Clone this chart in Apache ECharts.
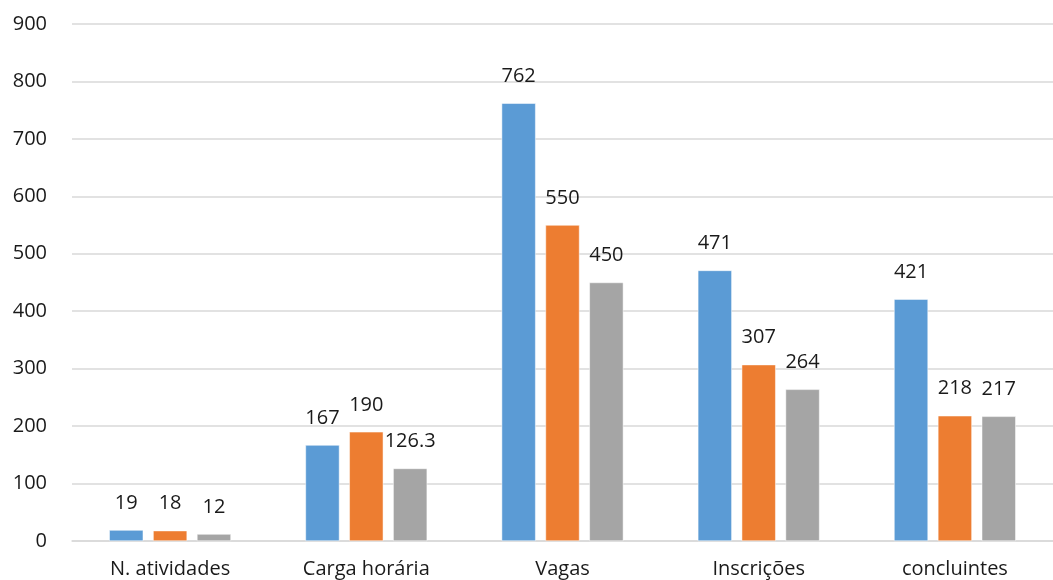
<!DOCTYPE html>
<html>
<head>
<meta charset="utf-8">
<script src="https://cdn.jsdelivr.net/npm/echarts@6/dist/echarts.min.js"></script>
<style>
html,body{margin:0;padding:0;background:#fff;}
#main{width:1053px;height:580px;}
</style>
</head>
<body>
<div id="main"></div>
<script>
const categories = ['N. atividades', 'Carga horária', 'Vagas', 'Inscrições', 'concluintes'];
const series1 = [19, 167, 762, 471, 421];
const series2 = [18, 190, 550, 307, 218];
const series3 = [12, 126.3, 450, 264, 217];
const colors = ['#5B9BD5', '#ED7D31', '#A5A5A5'];
const FONT = 'Open Sans';

const chart = echarts.init(document.getElementById('main'));
function mk(data, i) {
  return {
    type: 'bar',
    data: data,
    barWidth: 34,
    barGap: '29%',
    itemStyle: { color: colors[i], borderColor: '#fff', borderWidth: 0.5 },
    label: {
      show: true, position: 'top', distance: 17,
      color: '#1a1a1a', fontSize: 20, fontFamily: FONT
    }
  };
}
chart.setOption({
  animation: false,
  grid: { left: 72, right: -2, top: 24, bottom: 39, containLabel: false },
  xAxis: {
    type: 'category', data: categories,
    axisLine: { lineStyle: { color: '#d9d9d9', width: 1.5 } },
    axisTick: { show: false },
    axisLabel: { color: '#1a1a1a', fontSize: 20, fontFamily: FONT, margin: 18 }
  },
  yAxis: {
    type: 'value', min: 0, max: 900, interval: 100,
    axisLine: { show: false }, axisTick: { show: false },
    splitLine: { lineStyle: { color: '#d9d9d9', width: 1.5 } },
    axisLabel: { color: '#1a1a1a', fontSize: 20, fontFamily: FONT, margin: 25 }
  },
  series: [mk(series1, 0), mk(series2, 1), mk(series3, 2)]
});
</script>
</body>
</html>
